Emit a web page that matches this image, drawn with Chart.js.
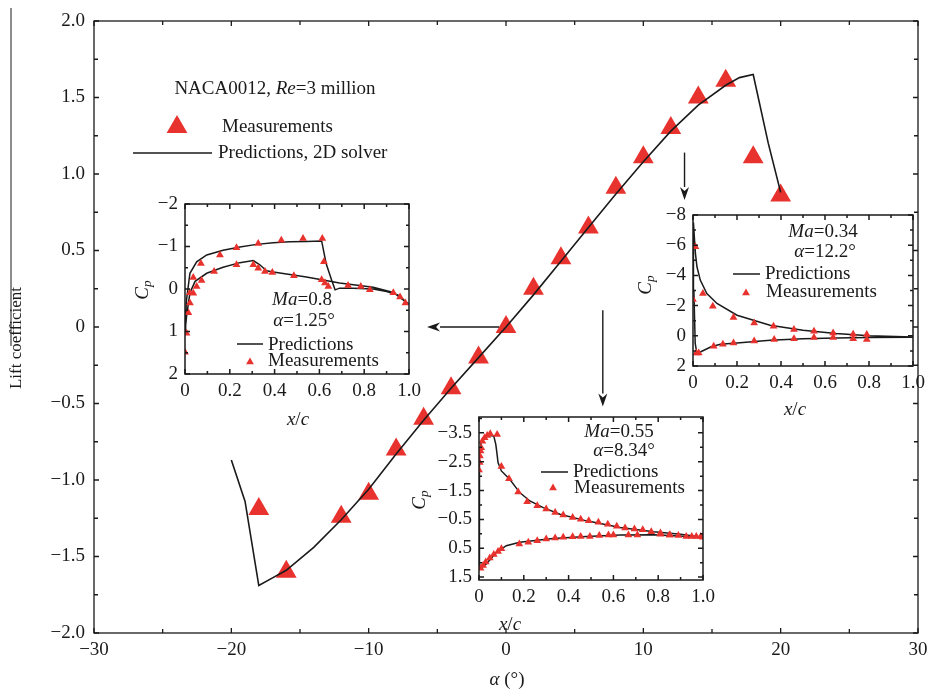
<!DOCTYPE html>
<html>
<head>
<title>NACA0012 lift coefficient</title>
<style>
  body { margin: 0; background: #fff; }
  #wrap { position: relative; width: 930px; height: 695px; }
  canvas { position: absolute; }
</style>
<script src="https://cdn.jsdelivr.net/npm/chart.js"></script>
</head>
<body>
<div id="wrap">
  <canvas id="main" width="930" height="695" style="left:0;top:0"></canvas>
  <canvas id="ins1"></canvas>
  <canvas id="ins2"></canvas>
  <canvas id="ins3"></canvas>
</div>
<script>
// ---- main chart: lift coefficient vs angle of attack ----
const mainMeasAlpha = [-18, -16, -12, -10, -8, -6, -4, -2, 0, 2, 4, 6, 8, 10, 12, 14, 16, 18, 20];
const mainMeasCl = [-1.19, -1.6, -1.24, -1.09, -0.8, -0.6, -0.4, -0.2, 0, 0.25, 0.45, 0.65, 0.91, 1.11, 1.3, 1.5, 1.61, 1.11, 0.86];
const mainPredAlpha = [-20, -19, -18, -17, -16, -14, -12, -10, -8, -6, -4, -2, 0, 2, 4, 6, 8, 10, 12, 14, 16, 17, 18, 19.1, 20];
const mainPredCl = [-0.87, -1.14, -1.69, -1.64, -1.59, -1.44, -1.26, -1.06, -0.83, -0.61, -0.4, -0.2, 0, 0.21, 0.43, 0.65, 0.87, 1.08, 1.28, 1.45, 1.58, 1.63, 1.65, 1.2, 0.88];
const mainXTicks = [-30, -20, -10, 0, 10, 20, 30];
const mainXLabels = ['\u221230', '\u221220', '\u221210', '0', '10', '20', '30'];
const mainYTicks = [-2, -1.5, -1, -0.5, 0, 0.5, 1, 1.5, 2];
const mainYLabels = ['\u22122.0', '\u22121.5', '\u22121.0', '\u22120.5', '0', '0.5', '1.0', '1.5', '2.0'];

// ---- inset Ma=0.8, alpha=1.25 ----
const ma08PredX = [1.0, 0.93, 0.84, 0.69, 0.542, 0.394, 0.364, 0.334, 0.305, 0.245, 0.17, 0.097, 0.045, 0.022, 0.007, 0,
                   0.003, 0.007, 0.022, 0.052, 0.097, 0.17, 0.245, 0.32, 0.394, 0.468, 0.542, 0.61, 0.63, 0.654, 0.67, 0.69, 0.75, 0.84, 0.9, 0.95, 1.0];
const ma08PredCp = [0.36, 0.08, -0.04, -0.14, -0.28, -0.4, -0.43, -0.57, -0.67, -0.62, -0.51, -0.37, -0.18, 0.09, 0.64, 1.02,
                    0.6, 0.25, -0.37, -0.64, -0.8, -0.91, -0.99, -1.05, -1.09, -1.11, -1.12, -1.13, -0.6, -0.22, 0.02, -0.02, -0.02, 0.0, 0.06, 0.14, 0.36];
const ma08MeasX = [0, 0.007, 0.015, 0.022, 0.022, 0.037, 0.037, 0.052, 0.071, 0.074, 0.13, 0.156, 0.23, 0.23, 0.305, 0.327, 0.327, 0.357, 0.39,
                   0.43, 0.486, 0.527, 0.613, 0.62, 0.61, 0.625, 0.64, 0.728, 0.785, 0.825, 0.93, 0.96, 0.984];
const ma08MeasCp = [1.49, 1.04, 0.56, 0.33, 0.09, 0.1, -0.27, -0.06, -0.6, -0.2, -0.41, -0.8, -0.57, -0.97, -0.57, -1.07, -0.49, -0.41, -0.39,
                    -1.15, -0.31, -1.19, -1.19, -0.64, -0.22, -0.14, -0.06, -0.08, -0.06, 0.02, 0.09, 0.19, 0.33];
const ma08YTicks = [-2, -1, 0, 1, 2];
const ma08YLabels = ['\u22122', '\u22121', '0', '1', '2'];

// ---- inset Ma=0.55, alpha=8.34 ----
const ma055PredX = [1.0, 0.78, 0.63, 0.48, 0.33, 0.182, 0.122, 0.078, 0.033, 0.01, 0,
                    0.001, 0.003, 0.01, 0.025, 0.048, 0.066, 0.075, 0.08, 0.085, 0.1, 0.137, 0.182, 0.227, 0.287, 0.361, 0.48, 0.63, 0.78, 0.9, 1.0];
const ma055PredCp = [0.12, 0.03, 0.04, 0.09, 0.16, 0.29, 0.41, 0.64, 1.04, 1.18, 1.22,
                     -0.5, -2.58, -3.21, -3.36, -3.41, -3.39, -3.1, -2.8, -2.47, -2.18, -1.89, -1.43, -1.14, -0.91, -0.68, -0.45, -0.22, -0.07, 0.01, 0.12];
const ma055MeasX = [0, 0.003, 0.004, 0.007, 0.01, 0.015, 0.025, 0.037, 0.05, 0.081, 0.1, 0.134, 0.175, 0.215, 0.26, 0.3, 0.34, 0.376, 0.418,
                    0.454, 0.49, 0.533, 0.575, 0.615, 0.652, 0.694, 0.731, 0.769, 0.81, 0.85, 0.89, 0.925, 0.95, 0.97, 0.99, 1.0,
                    0.007, 0.018, 0.03, 0.048, 0.066, 0.085, 0.1, 0.18, 0.22, 0.26, 0.3, 0.34, 0.376, 0.418, 0.454, 0.495, 0.537, 0.578,
                    0.6, 0.667, 0.707, 0.81, 0.853];
const ma055MeasCp = [-2.21, -2.47, -2.7, -2.87, -2.98, -3.21, -3.33, -3.41, -3.47, -3.44, -2.33, -1.91, -1.45, -1.11, -0.97, -0.86, -0.74, -0.65, -0.57,
                     -0.51, -0.45, -0.4, -0.33, -0.26, -0.2, -0.17, -0.14, -0.07, -0.03, 0.04, 0.06, 0.09, 0.09, 0.09, 0.09, 0.12,
                     1.19, 1.1, 0.98, 0.84, 0.72, 0.61, 0.52, 0.35, 0.29, 0.24, 0.18, 0.14, 0.12, 0.1, 0.09, 0.09, 0.06, 0.04,
                     0.04, 0.04, 0.04, 0.01, 0.04];
const ma055YTicks = [-3.5, -2.5, -1.5, -0.5, 0.5, 1.5];
const ma055YLabels = ['\u22123.5', '\u22122.5', '\u22121.5', '\u22120.5', '0.5', '1.5'];

// ---- inset Ma=0.34, alpha=12.2 ----
const ma034PredX = [1.0, 0.8, 0.65, 0.5, 0.35, 0.2, 0.124, 0.08, 0.033, 0.018, 0.01, 0.004, 0.002,
                    0.006, 0.011, 0.018, 0.033, 0.063, 0.109, 0.2, 0.35, 0.5, 0.65, 0.8, 1.0];
const ma034PredCp = [0.1, 0.12, 0.14, 0.19, 0.3, 0.47, 0.56, 0.74, 1.07, 1.18, 0.5, -3, -7.5,
                     -6.56, -5.46, -4.57, -3.69, -2.8, -2.14, -1.36, -0.7, -0.37, -0.15, 0.0, 0.08];
const ma034MeasX = [0.011, 0, 0.015, 0.026, 0.045, 0.09, 0.094, 0.136, 0.184, 0.184, 0.278, 0.278, 0.366, 0.369,
                    0.459, 0.459, 0.55, 0.55, 0.637, 0.637, 0.728, 0.728, 0.79, 0.79];
const ma034MeasCp = [-5.9, -2.4, 1.14, 1.14, -2.8, -1.96, 0.69, 0.56, -1.21, 0.47, -0.85, 0.34, -0.63, 0.25,
                     -0.41, 0.19, -0.3, 0.12, -0.19, 0.12, -0.1, 0.19, -0.08, 0.25];
const ma034YTicks = [-8, -6, -4, -2, 0, 2];
const ma034YLabels = ['\u22128', '\u22126', '\u22124', '\u22122', '0', '2'];

const insetXTicks = [0, 0.2, 0.4, 0.6, 0.8, 1.0];
const insetXLabels = ['0', '0.2', '0.4', '0.6', '0.8', '1.0'];

// arrows in main-chart data coordinates
const mainArrows = [
  { from: [-0.5, 0], to: [-5.75, 0] },
  { from: [7.05, 0.11], to: [7.05, -0.52] },
  { from: [13.0, 1.14], to: [13.0, 0.83] }
];

const RED = '#e8322e';
const INK = '#1a1a1a';
const SERIF = '"Liberation Serif", "Times New Roman", serif';
Chart.defaults.font.family = SERIF;
Chart.defaults.font.size = 19;
Chart.defaults.color = INK;

const pts = (xs, ys) => xs.map((v, i) => ({ x: v, y: ys[i] }));

function drawRich(ctx, parts, x, y, align, size) {
  const fontOf = p => (p[1] ? 'italic ' : '') + (p[2] ? size * 0.7 : size) + 'px ' + SERIF;
  let w = 0;
  parts.forEach(p => { ctx.font = fontOf(p); w += ctx.measureText(p[0]).width; });
  let cx = align === 'center' ? x - w / 2 : x;
  ctx.textAlign = 'left';
  ctx.textBaseline = 'middle';
  parts.forEach(p => {
    ctx.font = fontOf(p);
    ctx.fillText(p[0], cx, p[2] ? y + size * 0.25 : y);
    cx += ctx.measureText(p[0]).width;
  });
}

// box + inward ticks on all four sides
const framePlugin = {
  id: 'frame',
  afterDatasetsDraw(chart, args, o) {
    const { ctx, chartArea: a, scales: { x, y } } = chart;
    ctx.save();
    ctx.strokeStyle = INK;
    ctx.lineWidth = o.lw;
    ctx.strokeRect(a.left, a.top, a.right - a.left, a.bottom - a.top);
    ctx.beginPath();
    const minor = (s, step) => {
      const out = [];
      for (let k = Math.ceil(s.min / step - 1e-9); k <= Math.floor(s.max / step + 1e-9); k++) out.push(k * step);
      return out;
    };
    const xm = (v, L) => { const p = x.getPixelForValue(v); ctx.moveTo(p, a.bottom); ctx.lineTo(p, a.bottom - L); ctx.moveTo(p, a.top); ctx.lineTo(p, a.top + L); };
    const ym = (v, L) => { const p = y.getPixelForValue(v); ctx.moveTo(a.left, p); ctx.lineTo(a.left + L, p); ctx.moveTo(a.right, p); ctx.lineTo(a.right - L, p); };
    minor(x, o.xMinor).forEach(v => xm(v, o.minorLen));
    minor(y, o.yMinor).forEach(v => ym(v, o.minorLen));
    x.ticks.forEach(t => xm(t.value, o.len));
    y.ticks.forEach(t => ym(t.value, o.len));
    ctx.stroke();
    ctx.restore();
  }
};

// free text, legend samples, arrows
const notesPlugin = {
  id: 'notes',
  afterDraw(chart, args, o) {
    const ctx = chart.ctx;
    const dx = o.dx || 0, dy = o.dy || 0;
    ctx.save();
    ctx.fillStyle = INK;
    (o.texts || []).forEach(t => {
      ctx.save();
      ctx.translate(t.x - dx, t.y - dy);
      if (t.rot) ctx.rotate(-Math.PI / 2);
      drawRich(ctx, t.parts, 0, 0, t.align || 'left', t.size || 19);
      ctx.restore();
    });
    (o.lines || []).forEach(l => {
      ctx.strokeStyle = l.color || INK;
      ctx.lineWidth = l.w || 1.5;
      ctx.beginPath();
      ctx.moveTo(l.x1 - dx, l.y1 - dy);
      ctx.lineTo(l.x2 - dx, l.y2 - dy);
      ctx.stroke();
    });
    (o.marks || []).forEach(m => {
      ctx.fillStyle = RED;
      ctx.strokeStyle = RED;
      ctx.lineWidth = 0;
      Chart.helpers.drawPoint(ctx, { pointStyle: 'triangle', radius: m.r, rotation: 0, borderWidth: 0 }, m.x - dx, m.y - dy);
    });
    if (o.arrows) {
      const { x, y } = chart.scales;
      ctx.strokeStyle = INK;
      ctx.fillStyle = INK;
      ctx.lineWidth = 1.4;
      o.arrows.forEach(ar => {
        const x1 = x.getPixelForValue(ar.from[0]), y1 = y.getPixelForValue(ar.from[1]);
        const x2 = x.getPixelForValue(ar.to[0]), y2 = y.getPixelForValue(ar.to[1]);
        const ang = Math.atan2(y2 - y1, x2 - x1), hl = 13, hw = 4.5;
        ctx.beginPath();
        ctx.moveTo(x1, y1);
        ctx.lineTo(x2 - Math.cos(ang) * hl, y2 - Math.sin(ang) * hl);
        ctx.stroke();
        ctx.beginPath();
        ctx.moveTo(x2, y2);
        ctx.lineTo(x2 - Math.cos(ang) * hl - Math.sin(ang) * hw, y2 - Math.sin(ang) * hl + Math.cos(ang) * hw);
        ctx.lineTo(x2 - Math.cos(ang) * hl * 0.7, y2 - Math.sin(ang) * hl * 0.7);
        ctx.lineTo(x2 - Math.cos(ang) * hl + Math.sin(ang) * hw, y2 - Math.sin(ang) * hl - Math.cos(ang) * hw);
        ctx.closePath();
        ctx.fill();
      });
    }
    ctx.restore();
  }
};

// scale with fixed ticks/labels; fit sets the axis band size and drops the label overhang padding
function axis(min, max, ticks, labels, fit, pad, reverse) {
  return {
    type: 'linear', min: min, max: max, reverse: !!reverse,
    afterBuildTicks: s => { s.ticks = ticks.map(v => ({ value: v })); },
    afterFit: s => { fit(s); s.paddingLeft = s.paddingRight = s.paddingTop = s.paddingBottom = 0; },
    ticks: { callback: (v, i) => labels[i], padding: pad, autoSkip: false, maxRotation: 0 },
    grid: { display: false, drawTicks: false },
    border: { display: false }
  };
}

new Chart(document.getElementById('main'), {
  type: 'scatter',
  data: {
    datasets: [
      { label: 'Predictions, 2D solver', data: pts(mainPredAlpha, mainPredCl), showLine: true, borderColor: INK,
        borderWidth: 1.6, pointRadius: 0, order: 0 },
      { label: 'Measurements', data: pts(mainMeasAlpha, mainMeasCl), pointStyle: 'triangle', pointRadius: 12,
        backgroundColor: RED, borderColor: RED, borderWidth: 0, order: 1 }
    ]
  },
  options: {
    responsive: false, animation: false, events: [],
    layout: { padding: { top: 21, right: 10, left: 0, bottom: 0 } },
    scales: {
      x: axis(-30, 30, mainXTicks, mainXLabels, s => { s.height = 62; }, 6),
      y: axis(-2, 2, mainYTicks, mainYLabels, s => { s.width = 94; }, 9)
    },
    plugins: {
      legend: { display: false }, tooltip: { enabled: false },
      frame: { lw: 1.3, len: 5, minorLen: 4, xMinor: 5, yMinor: 0.25 },
      notes: {
        texts: [
          { x: 275, y: 89, align: 'center', parts: [['NACA0012, '], ['Re', true], ['=3 million']] },
          { x: 222, y: 127, parts: [['Measurements']] },
          { x: 218, y: 153, parts: [['Predictions, 2D solver']] },
          { x: 507, y: 680, align: 'center', parts: [['\u03b1', true], [' (\u00b0)']] },
          { x: 17, y: 338, rot: true, align: 'center', size: 17, parts: [['Lift coefficient']] }
        ],
        lines: [
          { x1: 133, y1: 153, x2: 212, y2: 153, w: 1.6 },
          { x1: 11, y1: 8, x2: 11, y2: 346, w: 1 }
        ],
        marks: [{ x: 177, y: 127, r: 12 }],
        arrows: mainArrows
      }
    }
  },
  plugins: [framePlugin, notesPlugin]
});

function makeInset(id, box, o) {
  const padL = 80, padT = 14, padR = 16, padB = 62;
  const cv = document.getElementById(id);
  cv.width = box.r - box.l + padL + padR;
  cv.height = box.b - box.t + padT + padB;
  cv.style.left = (box.l - padL) + 'px';
  cv.style.top = (box.t - padT) + 'px';
  const n = o.notes;
  new Chart(cv, {
    type: 'scatter',
    data: {
      datasets: [
        { label: 'Predictions', data: pts(o.px, o.py), showLine: true, borderColor: INK, borderWidth: 1.5, pointRadius: 0, order: 1 },
        { label: 'Measurements', data: pts(o.mx, o.my), pointStyle: 'triangle', pointRadius: 4.5,
          backgroundColor: RED, borderColor: RED, borderWidth: 0, order: 0 }
      ]
    },
    options: {
      responsive: false, animation: false, events: [],
      layout: { padding: { top: padT, right: padR, left: 0, bottom: 0 } },
      scales: {
        x: axis(0, 1, insetXTicks, insetXLabels, s => { s.height = padB; }, 6),
        y: axis(o.yMin, o.yMax, o.yTicks, o.yLabels, s => { s.width = padL; }, 7, true)
      },
      plugins: {
        legend: { display: false }, tooltip: { enabled: false },
        frame: { lw: 1.5, len: 5, minorLen: 3, xMinor: 0.1, yMinor: o.yMinor },
        notes: {
          dx: box.l - padL, dy: box.t - padT,
          texts: [
            { x: n.ma[0], y: n.ma[1], align: 'center', parts: [['Ma', true], ['=' + o.ma]] },
            { x: n.al[0], y: n.al[1], align: 'center', parts: [['\u03b1', true], ['=' + o.al + '\u00b0']] },
            { x: n.pred[0], y: n.pred[1], parts: [['Predictions']] },
            { x: n.meas[0], y: n.meas[1], parts: [['Measurements']] },
            { x: n.cp[0], y: n.cp[1], rot: true, align: 'center', parts: [['C', true], ['p', true, true]] },
            { x: n.xc[0], y: n.xc[1], align: 'center', parts: [['x', true], ['/'], ['c', true]] }
          ],
          lines: [{ x1: n.line[0], y1: n.line[2], x2: n.line[1], y2: n.line[2], w: 1.5 }],
          marks: [{ x: n.tri[0], y: n.tri[1], r: 4.5 }]
        }
      }
    },
    plugins: [framePlugin, notesPlugin]
  });
}

makeInset('ins1', { l: 185, t: 204, r: 409, b: 374 }, {
  px: ma08PredX, py: ma08PredCp, mx: ma08MeasX, my: ma08MeasCp,
  yMin: -2, yMax: 2, yTicks: ma08YTicks, yLabels: ma08YLabels, yMinor: 0.5, ma: '0.8', al: '1.25',
  notes: { ma: [302, 300], al: [304, 321], line: [237, 263, 344], pred: [268, 345], tri: [250, 362], meas: [268, 361], cp: [143, 290], xc: [298, 420] }
});
makeInset('ins2', { l: 479, t: 417, r: 703, b: 580 }, {
  px: ma055PredX, py: ma055PredCp, mx: ma055MeasX, my: ma055MeasCp,
  yMin: -4.05, yMax: 1.6, yTicks: ma055YTicks, yLabels: ma055YLabels, yMinor: 0.5, ma: '0.55', al: '8.34',
  notes: { ma: [619, 432], al: [624, 451], line: [541, 568, 472], pred: [573, 472], tri: [553, 488], meas: [574, 488], cp: [420, 500], xc: [510, 625] }
});
makeInset('ins3', { l: 693, t: 215, r: 913, b: 366 }, {
  px: ma034PredX, py: ma034PredCp, mx: ma034MeasX, my: ma034MeasCp,
  yMin: -8, yMax: 2, yTicks: ma034YTicks, yLabels: ma034YLabels, yMinor: 1, ma: '0.34', al: '12.2',
  notes: { ma: [823, 232], al: [825, 252], line: [733, 760, 274], pred: [765, 274], tri: [746, 293], meas: [766, 292], cp: [646, 285], xc: [795, 410] }
});
</script>
</body>
</html>
